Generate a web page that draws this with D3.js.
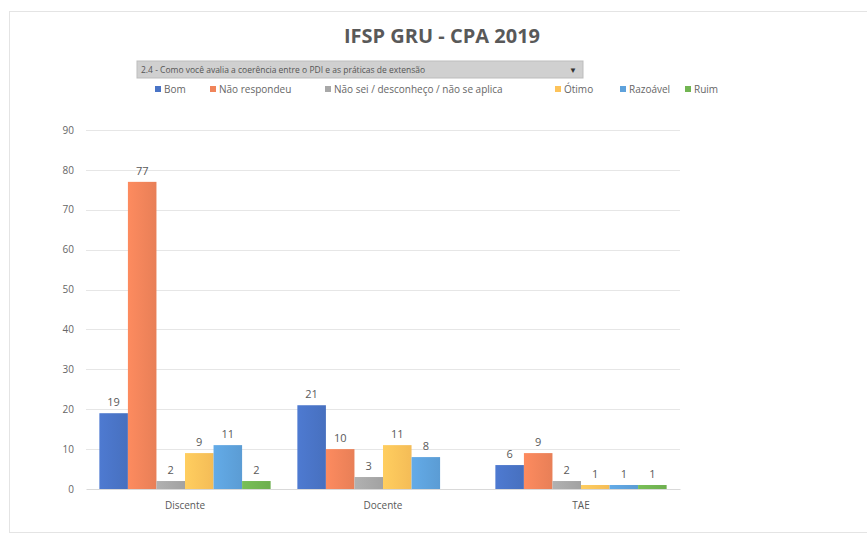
<!DOCTYPE html>
<html>
<head>
<meta charset="utf-8">
<script src="https://cdn.jsdelivr.net/npm/d3@7"></script>
<style>
  body { margin: 0; background: #fff; }
  text { font-family: "Open Sans", "Noto Sans", sans-serif; }
</style>
</head>
<body>
<div id="chart"></div>
<script>
// chart data
const categories = ["Discente", "Docente", "TAE"];
const series = ["Bom", "Não respondeu", "Não sei / desconheço / não se aplica", "Ótimo", "Razoável", "Ruim"];
const colors = ["#4a74c6", "#f0845a", "#a8a8a8", "#fdc35a", "#5ea2dc", "#72b552"];
const bom = [19, 21, 6];
const naoRespondeu = [77, 10, 9];
const naoSei = [2, 3, 2];
const otimo = [9, 11, 1];
const razoavel = [11, 8, 1];
const ruim = [2, null, 1];
const yTicks = [0, 10, 20, 30, 40, 50, 60, 70, 80, 90];

const values = [bom, naoRespondeu, naoSei, otimo, razoavel, ruim];
const rows = [];
categories.forEach((c, i) => {
    series.forEach((s, j) => {
        if (values[j][i] != null) rows.push({ cat: c, ser: s, val: values[j][i], idx: j });
    });
});

const W = 867, H = 535;
const svg = d3.select("#chart").append("svg")
    .attr("width", W)
    .attr("height", H);

// soft gradients like the office chart style
const defs = svg.append("defs");
colors.forEach((c, j) => {
    const g = defs.append("linearGradient").attr("id", "grad" + j)
        .attr("x1", 0).attr("x2", 1).attr("y1", 0).attr("y2", 0);
    g.append("stop").attr("offset", "0%").attr("stop-color", d3.color(c).brighter(0.15));
    g.append("stop").attr("offset", "100%").attr("stop-color", d3.color(c).darker(0.1));
});

// outer frame
svg.append("rect")
    .attr("x", 9.5).attr("y", 11.5)
    .attr("width", W + 10).attr("height", 521)
    .attr("fill", "none")
    .attr("stroke", "#e4e4e4");

// title
svg.append("text")
    .attr("x", 442).attr("y", 43)
    .attr("text-anchor", "middle")
    .attr("font-size", 20)
    .attr("font-weight", "bold")
    .attr("fill", "#595959")
    .text("IFSP GRU - CPA 2019");

// filter dropdown
svg.append("rect")
    .attr("x", 137).attr("y", 61)
    .attr("width", 446).attr("height", 17)
    .attr("fill", "#d0d0d0")
    .attr("stroke", "#bdbdbd");
svg.append("text")
    .attr("x", 141).attr("y", 73)
    .attr("font-size", 8.5)
    .attr("fill", "#555")
    .text("2.4 - Como você avalia a coerência entre o PDI e as práticas de extensão");
svg.append("text")
    .attr("x", 573).attr("y", 73)
    .attr("font-size", 8)
    .attr("text-anchor", "middle")
    .attr("fill", "#333")
    .text("▼");

// legend
const legendX = [155, 210, 325, 555, 620, 685];
const legend = svg.append("g");
series.forEach((s, j) => {
    const g = legend.append("g").attr("transform", `translate(${legendX[j]},90)`);
    g.append("rect").attr("x", 0).attr("y", -4).attr("width", 6).attr("height", 6).attr("fill", colors[j]);
    g.append("text").attr("x", 9).attr("y", 3)
        .attr("font-size", 10).attr("fill", "#666").text(s);
});

// scales
const margin = { left: 86, right: 187, top: 130, bottom: 46 };
const x0 = d3.scaleBand()
    .domain(categories)
    .range([margin.left, W - margin.right])
    .paddingInner(0.135)
    .paddingOuter(0.0675);
const x1 = d3.scaleBand()
    .domain(series)
    .range([0, x0.bandwidth()]);
const y = d3.scaleLinear()
    .domain([0, 90])
    .range([H - margin.bottom, margin.top]);

// gridlines
svg.append("g")
    .selectAll("line")
    .data(yTicks.filter(t => t > 0))
    .join("line")
    .attr("x1", margin.left).attr("x2", W - margin.right)
    .attr("y1", d => Math.round(y(d)) + 0.5).attr("y2", d => Math.round(y(d)) + 0.5)
    .attr("stroke", "#e6e6e6");

// y axis
const yAxis = svg.append("g")
    .attr("transform", `translate(${margin.left},0)`)
    .call(d3.axisLeft(y).tickValues(yTicks).tickSize(0).tickPadding(12));
yAxis.select(".domain").remove();
yAxis.selectAll("text").attr("font-size", 10).attr("fill", "#666")
    .style("font-family", "'Open Sans', sans-serif");

// bars
svg.append("g")
    .selectAll("rect")
    .data(rows)
    .join("rect")
    .attr("x", d => x0(d.cat) + x1(d.ser))
    .attr("y", d => y(d.val))
    .attr("width", x1.bandwidth())
    .attr("height", d => y(0) - y(d.val))
    .attr("fill", d => `url(#grad${d.idx})`);

// data labels
svg.append("g")
    .selectAll("text")
    .data(rows)
    .join("text")
    .attr("x", d => x0(d.cat) + x1(d.ser) + x1.bandwidth() / 2)
    .attr("y", d => y(d.val) - 7)
    .attr("text-anchor", "middle")
    .attr("font-size", 11)
    .attr("fill", "#595959")
    .text(d => d.val);

// x axis
const xAxis = svg.append("g")
    .attr("transform", `translate(0,${y(0)})`)
    .call(d3.axisBottom(x0).tickSize(0).tickPadding(13));
xAxis.select(".domain").attr("stroke", "#d9d9d9");
xAxis.selectAll("text").attr("font-size", 10).attr("fill", "#595959")
    .style("font-family", "'Open Sans', sans-serif");
</script>
</body>
</html>
